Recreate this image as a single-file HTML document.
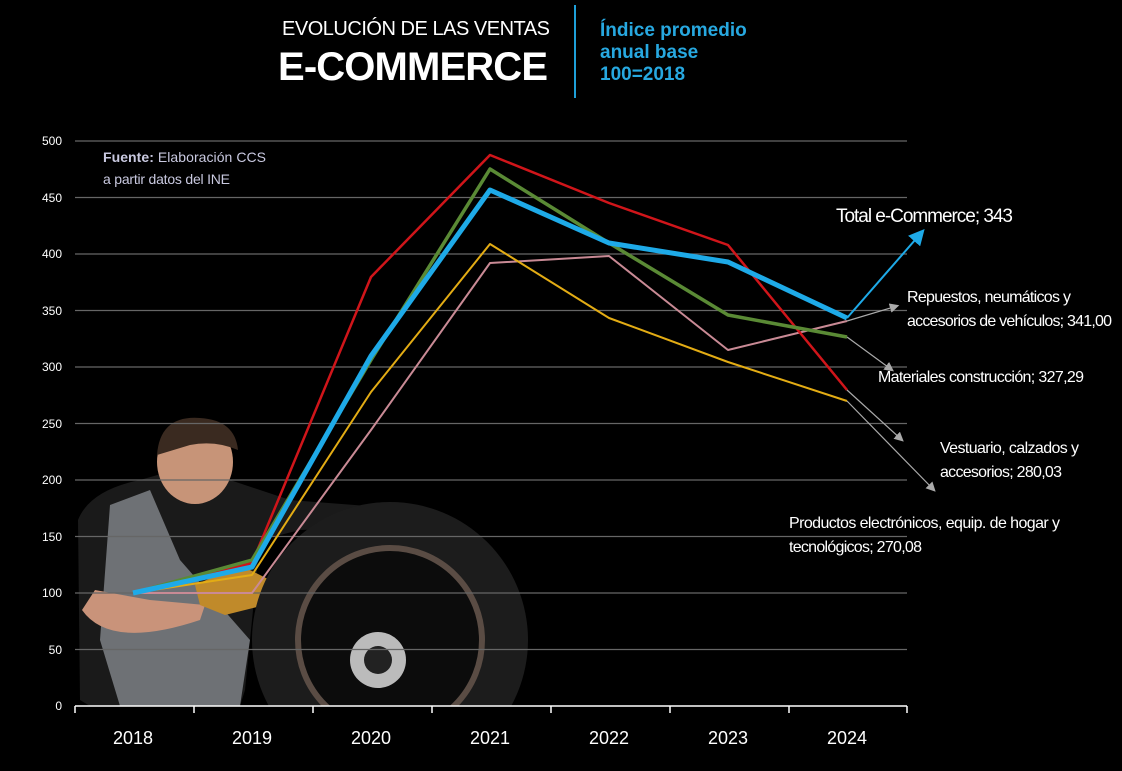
<!DOCTYPE html><html><head><meta charset="utf-8"><style>
body{margin:0;background:#000;width:1122px;height:766px;overflow:hidden;font-family:"Liberation Sans Narrow","Liberation Sans",sans-serif}
</style></head><body>
<svg width="1122" height="766" viewBox="0 0 1122 766" xmlns="http://www.w3.org/2000/svg" font-family="Liberation Sans Narrow, Liberation Sans, sans-serif">
<defs><marker id="a" markerWidth="8" markerHeight="8" refX="6" refY="4" orient="auto"><path d="M0,0 L8,4 L0,8 Z" fill="#aaa"/></marker>
<marker id="b" markerWidth="8" markerHeight="8" refX="6" refY="4" orient="auto"><path d="M0,0 L8,4 L0,8 Z" fill="#1eaae8"/></marker></defs>
<rect width="1122" height="766" fill="#000"/>
<text x="550" y="35" fill="#fff" font-size="20" text-anchor="end" font-family="Liberation Sans" textLength="268">EVOLUCIÓN DE LAS VENTAS</text>
<text x="548" y="80" fill="#fff" font-size="40" font-weight="bold" text-anchor="end" font-family="Liberation Sans" textLength="270">E-COMMERCE</text>
<line x1="575" y1="5" x2="575" y2="98" stroke="#1e9fd8" stroke-width="2"/>
<g fill="#27a8e0" font-size="19" font-weight="bold" font-family="Liberation Sans"><text x="600" y="36">Índice promedio</text><text x="600" y="58">anual base</text><text x="600" y="80">100=2018</text></g>
<!-- mechanic -->
<path d="M80 700 L78 520 Q90 490 140 480 L175 470 L230 480 L290 500 L420 510 L440 525 L300 530 L260 540 L245 690 L240 706 L90 706 Z" fill="#1a1a1a"/>
<path d="M110 505 L150 490 L180 560 L215 600 L250 640 L240 706 L120 706 L100 640 Z" fill="#6e7175"/>
<path d="M82 610 Q110 650 200 620 L205 605 L150 600 L95 590 Z" fill="#c9937a"/>
<ellipse cx="195" cy="462" rx="38" ry="42" fill="#c79478"/>
<path d="M157 455 Q160 415 200 418 Q235 420 238 450 Q215 440 190 445 Z" fill="#3a2a20"/>
<path d="M195 585 L240 565 L270 580 L265 605 L225 615 L200 605 Z" fill="#c08a2a"/>
<path d="M370 505 L420 512 L440 525 L400 525 Z" fill="#c08a2a"/>
<circle cx="390" cy="640" r="138" fill="#1c1c1c"/>
<circle cx="390" cy="640" r="92" fill="#0c0c0c" stroke="#5a4c44" stroke-width="6"/>
<circle cx="378" cy="660" r="28" fill="#bbb"/><circle cx="378" cy="660" r="14" fill="#222"/>
<rect x="0" y="706" width="1122" height="60" fill="#000"/>
<g stroke="#666" stroke-width="1.2">
<line x1="75" y1="141" x2="907" y2="141"/><line x1="75" y1="197.5" x2="907" y2="197.5"/><line x1="75" y1="254" x2="907" y2="254"/><line x1="75" y1="310.5" x2="907" y2="310.5"/><line x1="75" y1="367" x2="907" y2="367"/><line x1="75" y1="423.5" x2="907" y2="423.5"/><line x1="75" y1="480" x2="907" y2="480"/><line x1="75" y1="536.5" x2="907" y2="536.5"/><line x1="75" y1="593" x2="907" y2="593"/><line x1="75" y1="649.5" x2="907" y2="649.5"/>
</g>
<g fill="#fff" font-size="12" text-anchor="end">
<text x="62" y="145">500</text><text x="62" y="202">450</text><text x="62" y="258">400</text><text x="62" y="315">350</text><text x="62" y="371">300</text><text x="62" y="428">250</text><text x="62" y="484">200</text><text x="62" y="541">150</text><text x="62" y="597">100</text><text x="62" y="654">50</text><text x="62" y="710">0</text></g>
<g fill="#c9c9e0" font-size="14"><text x="103" y="162" textLength="163"><tspan font-weight="bold">Fuente:</tspan> Elaboración CCS</text><text x="103" y="184" textLength="127">a partir datos del INE</text></g>
<!-- axis -->
<g stroke="#fff" stroke-width="1.5"><line x1="75" y1="706" x2="907" y2="706"/>
<line x1="75" y1="706" x2="75" y2="713"/><line x1="194" y1="706" x2="194" y2="713"/><line x1="313" y1="706" x2="313" y2="713"/><line x1="432" y1="706" x2="432" y2="713"/><line x1="551" y1="706" x2="551" y2="713"/><line x1="670" y1="706" x2="670" y2="713"/><line x1="789" y1="706" x2="789" y2="713"/><line x1="907" y1="706" x2="907" y2="713"/></g>
<g fill="#fff" font-size="18" text-anchor="middle"><text x="133" y="744">2018</text><text x="252" y="744">2019</text><text x="371" y="744">2020</text><text x="490" y="744">2021</text><text x="609" y="744">2022</text><text x="728" y="744">2023</text><text x="847" y="744">2024</text></g>
<!-- series -->
<g fill="none" stroke-linejoin="round">
<polyline stroke="#c98a95" stroke-width="2" points="133,593 252,593 371,430 490,263 609,256 728,350 847,321"/>
<polyline stroke="#e3ac14" stroke-width="2" points="133,593 252,575 371,392 490,244 609,318 728,362 847,401"/>
<polyline stroke="#d0151a" stroke-width="2.5" points="133,593 252,563 371,277 490,155 609,203 728,245 847,390"/>
<polyline stroke="#5a8a35" stroke-width="3.5" points="133,593 252,560 371,360 490,169 609,243 728,315 847,337"/>
<polyline stroke="#1eaae8" stroke-width="5" points="133,593 252,567 371,356 490,190 609,243 728,262 847,318"/>
</g>
<g stroke="#aaa" stroke-width="1.2" fill="none">
<line x1="847" y1="318" x2="922" y2="232" stroke="#1eaae8" stroke-width="2" marker-end="url(#b)"/>
<line x1="847" y1="321" x2="897" y2="306" marker-end="url(#a)"/>
<line x1="847" y1="337" x2="892" y2="370" marker-end="url(#a)"/>
<line x1="847" y1="390" x2="902" y2="440" marker-end="url(#a)"/>
<line x1="847" y1="401" x2="934" y2="490" marker-end="url(#a)"/>
</g>
<g fill="#fff" font-size="16">
<text x="836" y="222" font-size="19" textLength="177">Total e-Commerce; 343</text>
<text x="907" y="302" textLength="164">Repuestos, neumáticos y</text><text x="907" y="326" textLength="205">accesorios de vehículos; 341,00</text>
<text x="878" y="382" textLength="206">Materiales construcción; 327,29</text>
<text x="940" y="453" textLength="139">Vestuario, calzados y</text><text x="940" y="477" textLength="122">accesorios; 280,03</text>
<text x="789" y="528" textLength="271">Productos electrónicos, equip. de hogar y</text><text x="789" y="552" textLength="133">tecnológicos; 270,08</text>
</g>
</svg></body></html>
